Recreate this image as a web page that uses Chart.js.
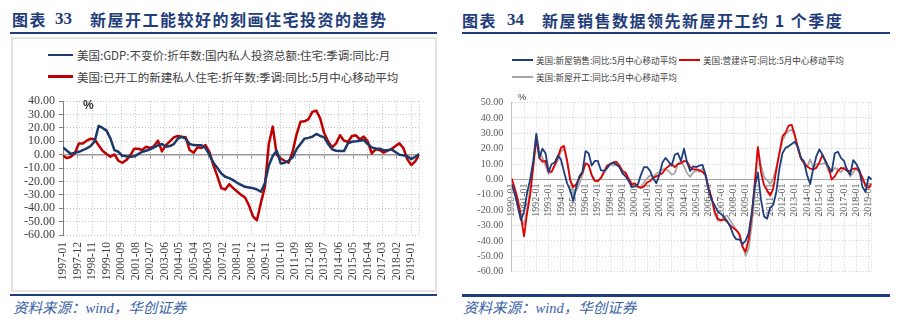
<!DOCTYPE html>
<html>
<head>
<meta charset="utf-8">
<script src="https://cdn.jsdelivr.net/npm/chart.js@4.4.1/dist/chart.umd.min.js"></script>
<style>
  html, body { margin: 0; padding: 0; background: #fff; }
  #page { position: relative; width: 906px; height: 328px; overflow: hidden; font-family: "Noto Sans CJK SC", sans-serif; }
  .abs { position: absolute; white-space: nowrap; }
  .ttl { font-weight: 700; font-size: 16px; line-height: 18px; color: #1f3d7a; letter-spacing: 1.5px; }
  .num { font-family: "Liberation Serif", serif; font-weight: 700; font-size: 17px; line-height: 18px; color: #1f3d7a; }
  .rule { position: absolute; height: 2.5px; background: #1f3d7a; }
  .src { font-family: "Liberation Serif", "Noto Sans CJK SC", serif; font-style: italic; font-size: 14.5px; line-height: 18px; color: #3a63a6; }
  .frame { position: absolute; box-sizing: border-box; border: 2px solid #e3e3e3; }
  .leg { position: absolute; display: flex; align-items: center; white-space: nowrap; color: #404040; line-height: 16px; }
  .leg i { display: inline-block; }
  canvas { position: absolute; }
</style>
</head>
<body>
<div id="page">
  <!-- 左侧：图表 33 -->
  <span class="abs ttl" style="left:12px;top:10px">图表</span>
  <span class="abs num" style="left:55px;top:10px">33</span>
  <span class="abs ttl" style="left:90px;top:10px">新屋开工能较好的刻画住宅投资的趋势</span>
  <div class="rule" style="left:10px;top:31.5px;width:427px"></div>
  <div class="frame" style="left:11px;top:37px;width:426px;height:255px"></div>
  <div class="leg" style="left:48px;top:47px;font-size:11.5px"><i style="width:25px;height:2.5px;background:#1b3a6b"></i><span style="margin-left:4px">美国:GDP:不变价:折年数:国内私人投资总额:住宅:季调:同比:月</span></div>
  <div class="leg" style="left:48px;top:68.5px;font-size:11.5px"><i style="width:25px;height:2.5px;background:#c00000"></i><span style="margin-left:4px">美国:已开工的新建私人住宅:折年数:季调:同比:5月中心移动平均</span></div>
  <canvas id="leftChart" width="440" height="200" style="left:0;top:90px"></canvas>
  <span class="abs" style="left:83px;top:98px;font:bold 12px 'Liberation Sans',sans-serif;color:#333">%</span>
  <div class="rule" style="left:10px;top:293.5px;width:427px"></div>
  <span class="abs src" style="left:13px;top:299px">资料来源：wind，华创证券</span>

  <!-- 右侧：图表 34 -->
  <span class="abs ttl" style="left:462px;top:11px">图表</span>
  <span class="abs num" style="left:507px;top:11px">34</span>
  <span class="abs ttl" style="left:542px;top:11px">新屋销售数据领先新屋开工约 1 个季度</span>
  <div class="rule" style="left:462px;top:31.5px;width:428px"></div>
  <div class="leg" style="left:512px;top:52px;font-size:8.6px"><i style="width:21px;height:2px;background:#1f3d7a"></i><span style="margin-left:3px">美国:新屋销售:同比:5月中心移动平均</span></div>
  <div class="leg" style="left:679px;top:52px;font-size:8.6px"><i style="width:21px;height:2px;background:#e00000"></i><span style="margin-left:3px">美国:营建许可:同比:5月中心移动平均</span></div>
  <div class="leg" style="left:512px;top:69px;font-size:8.6px"><i style="width:21px;height:2px;background:#a6a6a6"></i><span style="margin-left:3px">美国:新屋开工:同比:5月中心移动平均</span></div>
  <canvas id="rightChart" width="451" height="200" style="left:455px;top:88px"></canvas>
  <span class="abs" style="left:518px;top:91px;font:9.5px 'Liberation Sans',sans-serif;color:#404040">%</span>
  <div class="rule" style="left:462px;top:294px;width:428px"></div>
  <span class="abs src" style="left:463px;top:299px">资料来源：wind，华创证券</span>
</div>

<script>
// 左图：每季度取一个值，月序号 0 = 1997-01
const leftStart = 1997;
const leftStep = 3;
const gdpResInv = [
  5.4, 3, 0.5, 1.5, 2.2, 3.5, 4.7, 6.5, 10, 21.5,
  20, 18, 12, 3.4, 2.2, -0.8, -1.2, -1.5, -1.2, 0.5,
  2.2, 3, 4, 5.5, 7, 8, 6, 6.5, 8, 12,
  13.4, 12, 8, 7.2, 7, 7, 5, 0, -6, -10,
  -14, -16.5, -17.5, -19, -21, -22.5, -24, -24.5, -25, -26,
  -27.7, -21.4, -8, -1, 3, -6.5, -6, -4.5, -2, 4,
  8, 12, 12.6, 13.4, 15.5, 14, 13, 8, 4, 3,
  2.7, 2.7, 8.5, 9.7, 10, 10.5, 11, 8, 5.5, 4.7,
  4.5, 3.4, 3.4, 4, 2, 0, -0.5, -1.2, -3.3, -1.5,
  0.5
];
const startsPrivate = [
  -0.8, -2.5, -1.5, 1, 8.4, 8.4, 10.5, 12, 11.5, 7,
  3, 0.5, -1.5, 0.2, -4.5, -6, -4, -0.5, 4.5, 4.5,
  3.5, 6, 5, 6.5, 10.5, 2.5, 7.2, 10, 13, 14,
  13.4, 13, 3.5, 1.5, 5.5, 5, 7.2, 2, -8, -16,
  -25, -26, -22, -25, -27.5, -30, -32, -38, -46, -49,
  -36, -24, 8, 21, 0, -2.8, -4.5, -6, 2, 15,
  24.6, 25, 26.5, 32, 33, 27, 16, 10, 5.5, 8.5,
  14.6, 10.5, 9.5, 14, 14.5, 11.5, 13.5, 10, 1, 4,
  3.5, 1.5, 3, 4.2, 6.5, 8.5, 5, -3.5, -7.7, -5,
  0
];
const leftYTicks = [-60, -50, -40, -30, -20, -10, 0, 10, 20, 30, 40];

// 右图：每季度取一个值，月序号 0 = 1990-01
const rightStart = 1990;
const rightStep = 3;
const newHomeSales = [
  -3, -9, -18, -26.5, -21, -9, 0, 12, 29.5, 14,
  20, 17, 5, 10, 11, 15.5, 13, 5, -2.5, -7,
  -14, -5, 2, 5, 18.4, 17, 9, 12, 12, 6,
  5.5, 7.5, 10, 11, 9.5, 8, 4, 2, -1, -5,
  -4.6, -3.4, 3, 8, 8, 5.5, 0.6, -2.5, 3, 11,
  14, 11.5, 9, 16, 17, 12, 20, 11, 5.5, 8.5,
  8, 9, 9.5, 3, -7, -13.5, -17, -21, -22.4, -24.5,
  -27, -30.5, -36, -39, -39, -42, -40, -35, -22, -5,
  4.5, -13, -24, -25.6, -18.5, -16.5, -8, 7, 17, 20.5,
  21.5, 23, 24.5, 21, 14, 11.5, 2.7, -3, 7, 15,
  19.5, 16, 11.5, 8, 5, 17, 18, 14, 12, 6,
  3, 12.5, 10, 6, -5, -8, 1.7, 0
];
const buildingPermits = [
  0.6, -5.7, -13, -24, -37, -22, -10, 8, 26.5, 14,
  11.5, 12, 5, 5, 9.5, 14.5, 20.5, 21.8, 12, -0.5,
  -5, -3, 1, 4.5, 10.5, 9.5, 2.7, -1, -1, 1,
  5, 9, 10, 11, 11.5, 9, 5.5, 4.5, 0.5, -3.5,
  -2.5, -4.6, -5.5, -4.5, -2, -1, 1, 2, 3, 4,
  7, 8.5, 10, 8, 10, 10.5, 12, 11.5, 8, 6.5,
  6.5, 6, 4.8, 3, -5.7, -12, -21, -25.5, -26.6, -26,
  -27.5, -30, -31.5, -33, -35.5, -44, -47, -39, -24, -2,
  21, 5, -3.6, -7, -10.5, -6, 6, 17, 28, 30.5,
  35, 35.5, 29, 20, 13.5, 10.5, 8.5, 7, 6.5, 7.5,
  11, 16, 12, 7.5, 0, 2, 5.5, 7.5, 7, 5.5,
  5.5, 7, 7, 5.5, 1, -4, -5.5, -3
];
const housingStarts = [
  -5, -10, -17, -25, -29.5, -20, -6, 10, 30, 18,
  14, 9, 3.5, 5, 9, 12.5, 18, 20, 13, 0.6,
  -8.8, -7, -3, 3, 10, 9, 3, -0.5, -1.5, 0.5,
  4, 7, 10, 9, 10, 8.5, 5.5, 3, 0, -2,
  -4, -5.5, -4.6, -2, 0.6, 2.7, 1.5, 3.8, 4.8, 6.5,
  6.5, 5.5, 3, 4, 10, 12, 8.5, 4, 1.7, 4.5,
  6, 5, 7, 1.7, -5.7, -13, -23, -27, -27, -24,
  -23.5, -26.5, -30, -33, -36, -42, -49.7, -45, -30, -8,
  21, 9, 1.7, -0.4, -3, 0.5, 8, 17, 25.5, 29,
  31.5, 32.5, 28, 22, 14, 12, 8, 13, 7.5, 10,
  10, 10, 11, 5, 5, 7.5, 6.5, 4.5, 8, 7,
  2, 4.5, 7.5, 4, -0.5, -3, -3, -2.5
];
const rightYTicks = [-60, -50, -40, -30, -20, -10, 0, 10, 20, 30, 40, 50];

function monthLabel(start, i) {
  const y = start + Math.floor(i / 12);
  const m = String(i % 12 + 1).padStart(2, '0');
  return y + '-' + m;
}

function toPoints(values, step) {
  return values.map((v, i) => ({ x: i * step, y: v }));
}

const serifTick = size => ({ family: 'Liberation Serif', size: size });
const dotted = [1, 2];

// 左图
const leftXMax = (gdpResInv.length - 1) * leftStep;
new Chart(document.getElementById('leftChart'), {
  type: 'line',
  data: {
    datasets: [
      { data: toPoints(gdpResInv, leftStep), borderColor: '#1b3a6b', borderWidth: 2.5, xAxisID: 'x', yAxisID: 'y' },
      { data: toPoints(startsPrivate, leftStep), borderColor: '#c00000', borderWidth: 2.5, xAxisID: 'x', yAxisID: 'y' }
    ]
  },
  options: {
    responsive: false,
    animation: false,
    events: [],
    layout: { padding: { top: 11, right: 17, left: 0, bottom: 0 } },
    elements: { point: { radius: 0 }, line: { tension: 0, borderJoinStyle: 'round' } },
    plugins: { legend: { display: false }, tooltip: { enabled: false } },
    scales: {
      x: {
        type: 'linear', min: 0, max: leftXMax,
        afterBuildTicks: s => { s.ticks.push({ value: leftXMax }); },
        afterFit: s => { s.height = 55; },
        ticks: {
          stepSize: 11, includeBounds: false, autoSkip: false,
          minRotation: 90, maxRotation: 90, padding: 7,
          color: '#404040', font: serifTick(11.5),
          callback: v => (v % 11 === 0 && v < leftXMax) ? monthLabel(leftStart, v) : ''
        },
        grid: { color: '#c4c4c4', lineWidth: 1, drawTicks: false },
        border: { display: false, dash: dotted }
      },
      // 零轴：实线加向下的短刻度
      x0: {
        axis: 'x', type: 'linear', position: { y: 0 }, min: 0, max: leftXMax,
        afterFit: s => { s.height = 0; },
        ticks: { display: false, stepSize: 11, includeBounds: false },
        grid: { drawOnChartArea: false, drawTicks: true, tickLength: 3, tickColor: '#9a9a9a', tickWidth: 1 },
        border: { color: '#9a9a9a', width: 1.5 }
      },
      y: {
        min: leftYTicks[0], max: leftYTicks[leftYTicks.length - 1],
        afterFit: s => { s.width = 63; },
        afterBuildTicks: s => { s.ticks = leftYTicks.map(v => ({ value: v })); },
        ticks: { autoSkip: false, padding: 4, color: '#404040', font: serifTick(12), callback: v => v.toFixed(2) },
        grid: { color: '#c4c4c4', tickLength: 4, tickColor: '#808080', tickBorderDash: [] },
        border: { color: '#808080', width: 1, dash: dotted }
      }
    }
  }
});

// 右图
const rightXMax = (newHomeSales.length - 1) * rightStep;
new Chart(document.getElementById('rightChart'), {
  type: 'line',
  data: {
    datasets: [
      { data: toPoints(newHomeSales, rightStep), borderColor: '#1f3d7a', borderWidth: 1.8 },
      { data: toPoints(buildingPermits, rightStep), borderColor: '#e00000', borderWidth: 1.8 },
      { data: toPoints(housingStarts, rightStep), borderColor: '#a6a6a6', borderWidth: 1.8 }
    ]
  },
  options: {
    responsive: false,
    animation: false,
    events: [],
    layout: { padding: { top: 8.7, right: 34.3, left: 0, bottom: 16.3 } },
    elements: { point: { radius: 0 }, line: { tension: 0, borderJoinStyle: 'round' } },
    plugins: { legend: { display: false }, tooltip: { enabled: false } },
    scales: {
      x: {
        type: 'linear', position: { y: 0 }, min: 0, max: rightXMax,
        afterFit: s => { s.height = 0; },
        afterBuildTicks: s => { s.ticks.push({ value: rightXMax }); },
        ticks: {
          stepSize: 12, includeBounds: false, autoSkip: false,
          minRotation: 90, maxRotation: 90, padding: 4,
          color: '#595959', font: serifTick(10),
          callback: v => (v % 12 === 0 && v < rightXMax) ? monthLabel(rightStart, v) : ''
        },
        grid: { color: '#d0d0d0', drawTicks: false },
        border: { color: '#a6a6a6', width: 1, dash: dotted }
      },
      y: {
        min: rightYTicks[0], max: rightYTicks[rightYTicks.length - 1],
        afterFit: s => { s.width = 56.7; },
        afterBuildTicks: s => { s.ticks = rightYTicks.map(v => ({ value: v })); },
        ticks: { autoSkip: false, padding: 8.5, color: '#595959', font: serifTick(10), callback: v => v.toFixed(2) },
        grid: { color: '#d0d0d0', drawTicks: false },
        border: { color: '#bfbfbf', width: 1, dash: dotted }
      }
    }
  }
});
</script>
</body>
</html>
